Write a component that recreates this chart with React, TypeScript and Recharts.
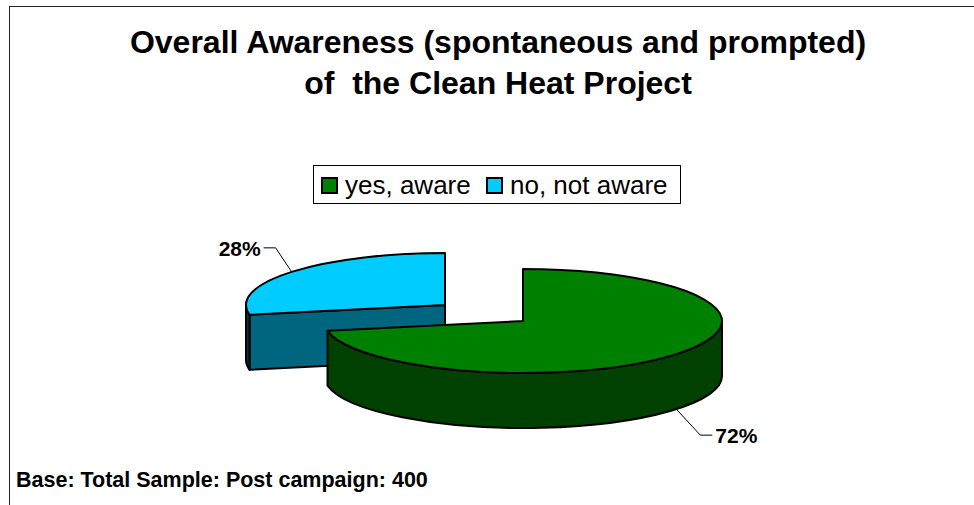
import React from "react";
import { PieChart, Pie, Legend } from "recharts";

const categories = ["no, not aware", "yes, aware"];
const shares = [28, 72];
const legendOrder = ["yes, aware", "no, not aware"];
const fills = ["#00CCFF", "#008000"];
const cutFaces = ["#006680", "#004000"];
const outerWalls = ["#00394a", "#004000"];
const explodeX = [-78, 0];
const explodeY = [-16, 0];
const knees = [[-16, -24], [24, 26]];
const titleLines = ["Overall Awareness (spontaneous and prompted)", "of  the Clean Heat Project"];
const baseNote = "Base: Total Sample: Post campaign: 400";

const tableData = categories.map((name, i) => ({ name, value: shares[i], fill: fills[i] }));

const FONT = "'Liberation Sans', Arial, sans-serif";
const ASPECT = 0.2613;
const DEPTH = 55;
const rad = (d: number) => (d * Math.PI) / 180;

function pt(cx: number, cy: number, rx: number, deg: number, dy = 0) {
  return { x: cx + rx * Math.cos(rad(deg)), y: cy - rx * ASPECT * Math.sin(rad(deg)) + dy };
}

function Slice3D(props: any) {
  const name = props.name ?? props.payload?.name;
  const i = categories.indexOf(name);
  const cx = props.cx + explodeX[i];
  const cy = props.cy + explodeY[i];
  const rx = props.outerRadius;
  const ry = rx * ASPECT;
  const s = props.startAngle;
  const e = props.endAngle;
  const a = pt(cx, cy, rx, s);
  const b = pt(cx, cy, rx, e);
  const large = s - e > 180 ? 1 : 0;
  const top = `M${cx},${cy} L${a.x},${a.y} A${rx},${ry} 0 ${large} 1 ${b.x},${b.y} Z`;

  const radial = (deg: number) => {
    const p = pt(cx, cy, rx, deg);
    return `M${cx},${cy} L${p.x},${p.y} L${p.x},${p.y + DEPTH} L${cx},${cy + DEPTH} Z`;
  };
  const faces: string[] = [];
  if (Math.cos(rad(s)) < -1e-6) faces.push(radial(s));
  if (Math.cos(rad(e)) > 1e-6) faces.push(radial(e));

  const walls: string[] = [];
  for (let k = -1; k <= 1; k++) {
    const hi = Math.min(s, 360 * k);
    const lo = Math.max(e, 360 * k - 180);
    if (hi > lo) {
      const p = pt(cx, cy, rx, hi);
      const q = pt(cx, cy, rx, lo);
      walls.push(
        `M${p.x},${p.y} A${rx},${ry} 0 0 1 ${q.x},${q.y} L${q.x},${q.y + DEPTH} A${rx},${ry} 0 0 0 ${p.x},${p.y + DEPTH} Z`
      );
    }
  }
  return (
    <g>
      {faces.map((d, n) => (
        <path key={`f${n}`} d={d} fill={cutFaces[i]} stroke="#000" strokeWidth={2} strokeLinejoin="round" />
      ))}
      {walls.map((d, n) => (
        <path key={`w${n}`} d={d} fill={outerWalls[i]} stroke="#000" strokeWidth={2} strokeLinejoin="round" />
      ))}
      <path d={top} fill={fills[i]} stroke="#000" strokeWidth={2} strokeLinejoin="round" />
    </g>
  );
}

function SliceLabel(props: any) {
  const i = categories.indexOf(props.name ?? props.payload?.name);
  const cx = props.cx + explodeX[i];
  const cy = props.cy + explodeY[i];
  const mid = props.midAngle;
  const lower = Math.sin(rad(mid)) < 0;
  const p = pt(cx, cy, props.outerRadius, mid, lower ? DEPTH : 0);
  const kx = p.x + knees[i][0];
  const ky = p.y + knees[i][1];
  const dir = knees[i][0] < 0 ? -1 : 1;
  const ex = kx + dir * 12;
  return (
    <g>
      <polyline points={`${p.x},${p.y} ${kx},${ky} ${ex},${ky}`} fill="none" stroke="#000" strokeWidth={1} />
      <text
        x={ex + dir * 3}
        y={ky + 8}
        textAnchor={dir < 0 ? "end" : "start"}
        fontFamily={FONT}
        fontWeight="bold"
        fontSize={21}
        fill="#000"
      >
        {`${props.value}%`}
      </text>
    </g>
  );
}

function LegendBox() {
  return (
    <div
      style={{
        width: 368,
        height: 39,
        boxSizing: "border-box",
        border: "1px solid #000",
        background: "#fff",
        position: "relative",
        fontFamily: FONT,
        fontSize: 26,
        color: "#000",
      }}
    >
      {legendOrder.map((name, n) => (
        <React.Fragment key={name}>
          <span
            style={{
              position: "absolute",
              left: [7, 172][n],
              top: 11,
              width: 17,
              height: 17,
              boxSizing: "border-box",
              border: "2px solid #000",
              background: fills[categories.indexOf(name)],
            }}
          />
          <span style={{ position: "absolute", left: [31, 196][n], top: 4, lineHeight: "30px", whiteSpace: "pre" }}>
            {name}
          </span>
        </React.Fragment>
      ))}
    </div>
  );
}

export default function App() {
  return (
    <div style={{ position: "absolute", left: 0, top: 0, width: 974, height: 505, overflow: "hidden", background: "#fff" }}>
      <div
        style={{
          position: "absolute",
          left: 9,
          top: 6,
          width: 970,
          height: 510,
          borderTop: "1px solid #222",
          borderLeft: "1px solid #222",
        }}
      />
      {titleLines.map((line, n) => (
        <div
          key={line}
          style={{
            position: "absolute",
            left: 0,
            width: 996,
            top: 24 + n * 41,
            textAlign: "center",
            fontFamily: FONT,
            fontWeight: "bold",
            fontSize: 32,
            lineHeight: "36px",
            whiteSpace: "pre",
            color: "#000",
          }}
        >
          {line}
        </div>
      ))}
      <div style={{ position: "absolute", left: 0, top: 0 }}>
        <PieChart width={974} height={505} margin={{ top: 0, right: 0, bottom: 0, left: 0 }}>
          <Pie
            data={tableData}
            dataKey="value"
            nameKey="name"
            cx={523}
            cy={321}
            innerRadius={0}
            outerRadius={199}
            startAngle={190.8}
            endAngle={-169.2}
            stroke="none"
            isAnimationActive={false}
            shape={Slice3D}
            label={SliceLabel}
            labelLine={false}
          />
          <Legend content={<LegendBox />} wrapperStyle={{ position: "absolute", left: 313, top: 165, width: 368, bottom: "auto" }} />
        </PieChart>
      </div>
      <div
        style={{
          position: "absolute",
          left: 16,
          top: 469,
          fontFamily: FONT,
          fontWeight: "bold",
          fontSize: 21.5,
          lineHeight: "22px",
          whiteSpace: "pre",
          color: "#000",
        }}
      >
        {baseNote}
      </div>
    </div>
  );
}
